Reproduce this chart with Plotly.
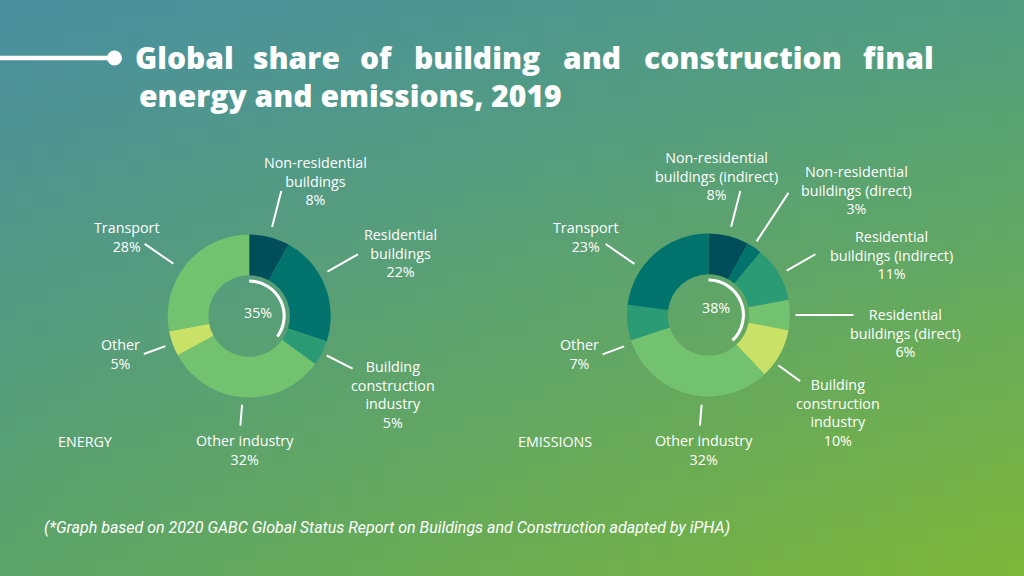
import numpy as np
import plotly.graph_objects as go

W, H = 1024, 576

# ---------------- data ----------------
energy_labels = ["Non-residential buildings", "Residential buildings", "Building construction industry",
                 "Other industry", "Other", "Transport"]
energy_values = [8, 22, 5, 32, 5, 28]
energy_text = ["Non-residential<br>buildings", "Residential<br>buildings", "Building<br>construction<br>industry",
               "Other industry", "Other", "Transport"]
energy_building_n = 3  # first three slices are building related

emissions_labels = ["Non-residential buildings (indirect)", "Non-residential buildings (direct)",
                    "Residential buildings (indirect)", "Residential buildings (direct)",
                    "Building construction industry", "Other industry", "Other", "Transport"]
emissions_values = [8, 3, 11, 6, 10, 32, 7, 23]
emissions_text = ["Non-residential<br>buildings (indirect)", "Non-residential<br>buildings (direct)",
                  "Residential<br>buildings (indirect)", "Residential<br>buildings (direct)",
                  "Building<br>construction<br>industry", "Other industry", "Other", "Transport"]
emissions_building_n = 5

title_line1 = ["Global", "share", "of", "building", "and", "construction", "final"]
title_line2 = "energy and emissions, 2019"
footnote = "(*Graph based on 2020 GABC Global Status Report on Buildings and Construction adapted by iPHA)"

# ---------------- styles / layout ----------------
C_DARK = "#004E5A"
C_TEAL = "#00736D"
C_MID = "#2A9B74"
C_GREEN = "#72C26F"
C_YEL = "#C8E166"
energy_colors = [C_DARK, C_TEAL, C_MID, C_GREEN, C_YEL, C_GREEN]
emissions_colors = [C_DARK, C_TEAL, C_MID, C_GREEN, C_YEL, C_GREEN, C_MID, C_TEAL]

LABEL_FONT = dict(family="Open Sans", size=14.3, color="white")

# donut geometry (pixels)
E_C = (249.2, 316.0)
M_C = (708.5, 315.0)
R_OUT = 81.5
ARC_R = 36.5

# label placement: (text center x, text center y, angle nudge, r0, r1)
energy_place = [(315, 181, 0, 92, 129), (400, 253, -8, 90, 125), (393, 394, 0, 87, 116),
                (245, 450, 1, 89, 110), (120, 353.5, 0, 89, 112), (127, 237.5, -5, 92, 127)]
emissions_place = [(716, 176, 0, 91, 128), (856, 189.5, -1, 88, 146), (891, 254.5, 1, 90, 123),
                   (905, 333, 0, 87, 145), (838, 412.5, 7, 86, 113), (704, 450, -10, 90, 111),
                   (579, 353.5, -15, 90, 113), (586, 237.5, -14, 90, 125)]


def px(x):
    return x / W


def py(y):
    return 1 - y / H


def domain(c, r):
    return dict(x=[px(c[0] - r), px(c[0] + r)], y=[py(c[1] + r), py(c[1] - r)])


fig = go.Figure()

# ---------------- gradient background ----------------
gh, gw = 36, 64
tl = np.array([74, 144, 160]); tr = np.array([80, 158, 128])
bl = np.array([92, 164, 104]); br = np.array([124, 183, 58])
u = np.linspace(0, 1, gw)[None, :, None]
v = np.linspace(0, 1, gh)[:, None, None]
img = (tl * (1 - u) * (1 - v) + tr * u * (1 - v) + bl * (1 - u) * v + br * u * v).astype(np.uint8)
fig.add_trace(go.Image(z=img, zsmooth="fast", hoverinfo="skip"))

# ---------------- donuts ----------------
for labels, values, colors, c in [(energy_labels, energy_values, energy_colors, E_C),
                                  (emissions_labels, emissions_values, emissions_colors, M_C)]:
    fig.add_trace(go.Pie(labels=labels, values=values, sort=False, direction="clockwise", rotation=0,
                         hole=0.5, marker=dict(colors=colors, line=dict(width=0)),
                         textinfo="none", hoverinfo="label+percent", showlegend=False,
                         domain=domain(c, R_OUT)))

# inner white arcs showing building share
for values, n, c in [(energy_values, energy_building_n, E_C), (emissions_values, emissions_building_n, M_C)]:
    share = sum(values[:n])
    fig.add_trace(go.Pie(labels=["Buildings", "Rest"], values=[share, sum(values) - share], sort=False,
                         direction="clockwise", rotation=0, hole=0.915,
                         marker=dict(colors=["white", "rgba(0,0,0,0)"], line=dict(width=0)),
                         textinfo="none", hoverinfo="skip", showlegend=False,
                         domain=domain(c, ARC_R)))

annotations = []
shapes = []

# labels + leader lines
for texts, values, place, c in [(energy_text, energy_values, energy_place, E_C),
                                (emissions_text, emissions_values, emissions_place, M_C)]:
    total = sum(values)
    cum = 0
    for t, v, p in zip(texts, values, place):
        tx, ty, nudge, r0, r1 = p
        mid = (cum + v / 2) / total * 360 + nudge
        cum += v
        a = np.radians(mid)
        x0, y0 = c[0] + r0 * np.sin(a), c[1] - r0 * np.cos(a)
        x1, y1 = c[0] + r1 * np.sin(a), c[1] - r1 * np.cos(a)
        shapes.append(dict(type="line", xref="paper", yref="paper", x0=px(x0), y0=py(y0), x1=px(x1), y1=py(y1),
                           line=dict(color="white", width=2)))
        annotations.append(dict(text=f"{t}<br>{round(v / total * 100)}%", x=px(tx), y=py(ty), xref="paper",
                                yref="paper", xanchor="center", yanchor="middle", showarrow=False,
                                align="center", font=LABEL_FONT))

# centre percentages
for values, n, pos in [(energy_values, energy_building_n, (257.5, 312)),
                       (emissions_values, emissions_building_n, (715.5, 307))]:
    share = round(sum(values[:n]) / sum(values) * 100)
    annotations.append(dict(text=f"{share}%", x=px(pos[0]), y=py(pos[1]), xref="paper", yref="paper",
                            xanchor="center", yanchor="middle", showarrow=False, font=LABEL_FONT))

# chart captions
for txt, pos in [("ENERGY", (56, 441)), ("EMISSIONS", (516, 441))]:
    annotations.append(dict(text=txt, x=px(pos[0]), y=py(pos[1]), xref="paper", yref="paper",
                            xanchor="left", yanchor="middle", showarrow=False, font=LABEL_FONT))

# title (justified first line: words spread with equal gaps)
TITLE_FONT = dict(family="Open Sans", size=30, color="white", weight=800)
word_centers = [184.5, 296.8, 376.1, 476.9, 592.2, 742.5, 898.8]
for w, xc in zip(title_line1, word_centers):
    annotations.append(dict(text=w, x=px(xc), y=py(57), xref="paper", yref="paper",
                            xanchor="center", yanchor="middle", showarrow=False, font=TITLE_FONT))
annotations.append(dict(text=title_line2, x=px(137), y=py(96), xref="paper", yref="paper",
                        xanchor="left", yanchor="middle", showarrow=False, font=TITLE_FONT))

# footnote
annotations.append(dict(text=footnote, x=px(42), y=py(527), xref="paper", yref="paper", xanchor="left",
                        yanchor="middle", showarrow=False,
                        font=dict(family="Roboto", size=16, color="white", style="italic")))

# decorative line with dot
shapes.append(dict(type="line", xref="paper", yref="paper", x0=0, x1=px(112), y0=py(58), y1=py(58),
                   line=dict(color="white", width=4.5)))
shapes.append(dict(type="circle", xref="paper", yref="paper", x0=px(107), x1=px(122), y0=py(65.5), y1=py(50.5),
                   fillcolor="white", line=dict(width=0)))

fig.update_layout(
    width=W, height=H, margin=dict(l=0, r=0, t=0, b=0),
    paper_bgcolor="#5A9F80", plot_bgcolor="rgba(0,0,0,0)",
    xaxis=dict(visible=False, range=[-0.5, gw - 0.5], domain=[0, 1], fixedrange=True),
    yaxis=dict(visible=False, range=[gh - 0.5, -0.5], domain=[0, 1], fixedrange=True),
    annotations=annotations, shapes=shapes,
)

fig.write_html("out.html", config={"displayModeBar": False},
               post_script="document.body.style.margin='0px';document.body.style.overflow='hidden';")
